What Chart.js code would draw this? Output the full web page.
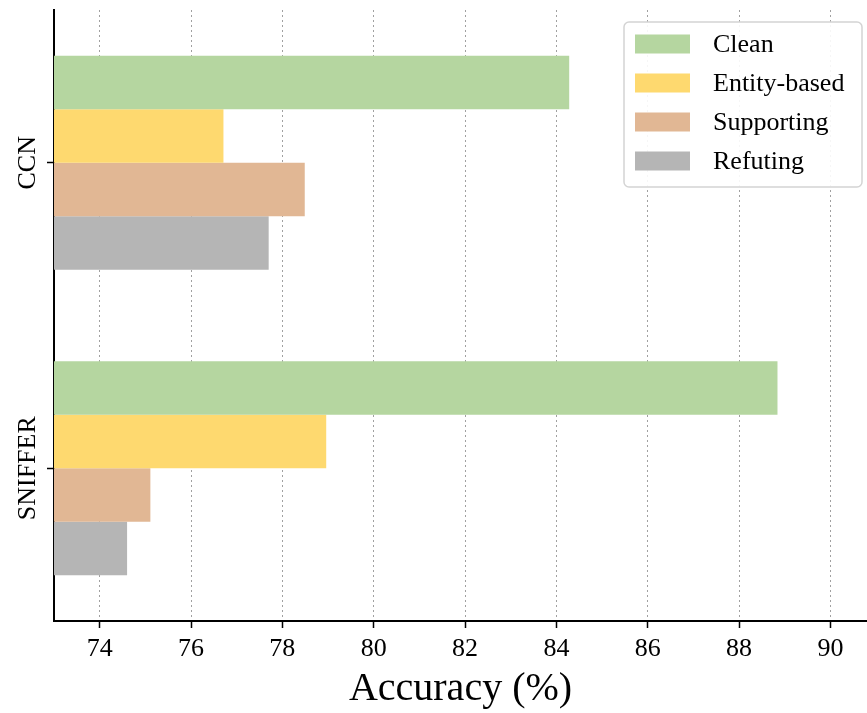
<!DOCTYPE html>
<html>
<head>
<meta charset="utf-8">
<script src="https://cdn.jsdelivr.net/npm/chart.js@4/dist/chart.umd.min.js"></script>
<style>
  html, body { margin: 0; padding: 0; background: #fff; }
  #wrap { width: 867px; height: 713px; position: relative; }
</style>
</head>
<body>
<div id="wrap"><canvas id="c" width="867" height="713"></canvas></div>
<script>
const categories = ['CCN', 'SNIFFER'];
const seriesNames = ['Clean', 'Entity-based', 'Supporting', 'Refuting'];
const clean = [84.28, 88.84];
const entityBased = [76.71, 78.96];
const supporting = [78.49, 75.11];
const refuting = [77.70, 74.60];
const xTicks = [74, 76, 78, 80, 82, 84, 86, 88, 90];
const colors = ['#b5d6a0', '#fed96f', '#e1b794', '#b5b5b5'];

const FONT = "'Liberation Serif', 'Times New Roman', serif";

const legendPlugin = {
  id: 'boxLegend',
  afterDraw(chart) {
    const ctx = chart.ctx;
    const x0 = 624, y0 = 22, w = 238, h = 165, r = 5;
    ctx.save();
    ctx.beginPath();
    ctx.roundRect(x0, y0, w, h, r);
    ctx.fillStyle = 'rgba(255,255,255,0.9)';
    ctx.fill();
    ctx.strokeStyle = '#d4d4d4';
    ctx.lineWidth = 1.5;
    ctx.stroke();
    ctx.font = '26px ' + FONT;
    ctx.textBaseline = 'middle';
    ctx.textAlign = 'left';
    chart.data.datasets.forEach((ds, i) => {
      const cy = 44 + i * 39;
      ctx.fillStyle = ds.backgroundColor;
      ctx.fillRect(635, cy - 9.5, 55, 19);
      ctx.fillStyle = '#000';
      ctx.fillText(ds.label, 713, cy + 1);
    });
    ctx.restore();
  }
};

const yLabelPlugin = {
  id: 'yLabels',
  afterDraw(chart) {
    const ctx = chart.ctx;
    const ys = chart.scales.y;
    ctx.save();
    ctx.font = '26px ' + FONT;
    ctx.fillStyle = '#000';
    ctx.textAlign = 'center';
    ctx.textBaseline = 'middle';
    chart.data.labels.forEach((lab, i) => {
      const py = ys.getPixelForValue(i);
      ctx.save();
      ctx.translate(28, py);
      ctx.rotate(-Math.PI / 2);
      ctx.fillText(lab, 0, 0);
      ctx.restore();
    });
    ctx.restore();
  }
};

const datasets = [clean, entityBased, supporting, refuting].map((d, i) => ({
  label: seriesNames[i],
  data: d,
  backgroundColor: colors[i],
  borderWidth: 0,
  categoryPercentage: 0.7,
  barPercentage: 1.0
}));

new Chart(document.getElementById('c'), {
  type: 'bar',
  data: { labels: categories, datasets },
  options: {
    indexAxis: 'y',
    responsive: false,
    animation: false,
    devicePixelRatio: 1,
    layout: { padding: { top: 10, right: 0, left: 0, bottom: 0 } },
    plugins: {
      legend: { display: false },
      tooltip: { enabled: false }
    },
    scales: {
      x: {
        type: 'linear',
        min: 73,
        max: 90.8,
        z: 1,
        afterBuildTicks(scale) {
          scale.ticks = xTicks.map(v => ({ value: v }));
        },
        afterFit(scale) { scale.height = 92; },
        grid: {
          display: true,
          drawOnChartArea: true,
          color: '#a0a0a0',
          lineWidth: 1,
          tickBorderDash: [1, 0],
          drawTicks: true,
          tickLength: 7,
          tickColor: '#000',
          tickWidth: 1.5
        },
        border: { display: true, color: '#000', width: 2, dash: [2, 3] },
        ticks: {
          color: '#000',
          font: { family: FONT, size: 26 },
          padding: 6,
          maxRotation: 0,
          minRotation: 0
        },
        title: {
          display: true,
          text: 'Accuracy (%)',
          color: '#000',
          font: { family: FONT, size: 40 },
          padding: { top: 0, bottom: 0 }
        }
      },
      y: {
        type: 'category',
        offset: true,
        afterFit(scale) { scale.width = 54; },
        grid: {
          display: true,
          offset: false,
          drawOnChartArea: false,
          drawTicks: true,
          tickLength: 7,
          tickColor: '#000',
          tickWidth: 1.5
        },
        border: { display: true, color: '#000', width: 2 },
        ticks: { display: false }
      }
    }
  },
  plugins: [legendPlugin, yLabelPlugin]
});
</script>
</body>
</html>
